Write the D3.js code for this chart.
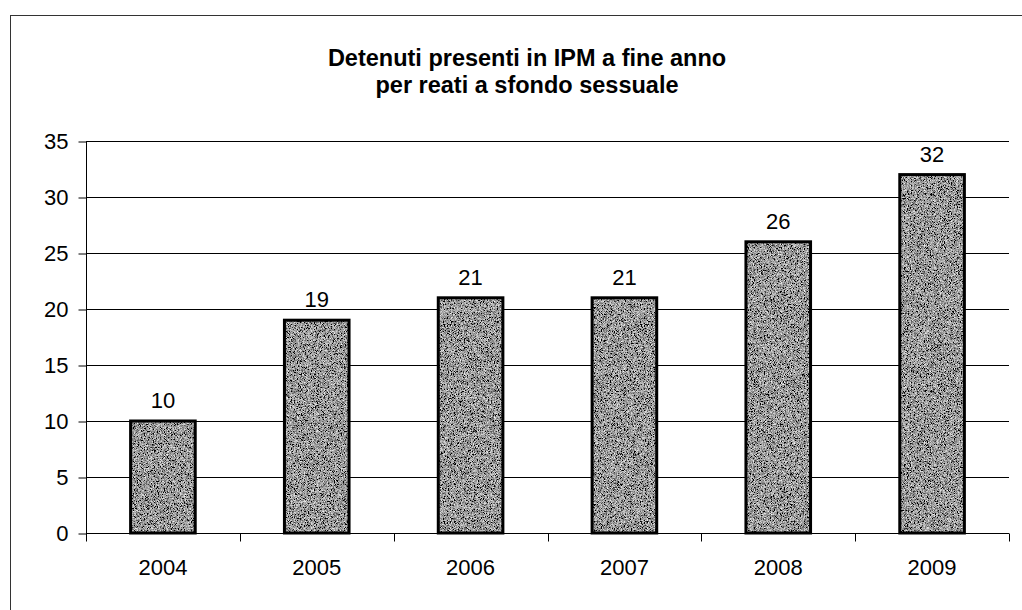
<!DOCTYPE html>
<html>
<head>
<meta charset="utf-8">
<script src="https://cdn.jsdelivr.net/npm/d3@7"></script>
<style>
  body { margin: 0; background: #fff; }
  text { font-family: "Liberation Sans", Arial, sans-serif; fill: #000; }
</style>
</head>
<body>
<div id="chart"></div>
<script>
// Data
const years = ["2004", "2005", "2006", "2007", "2008", "2009"];
const detenuti = [10, 19, 21, 21, 26, 32];
const yTicks = [0, 5, 10, 15, 20, 25, 30, 35];
const titleLines = ["Detenuti presenti in IPM a fine anno", "per reati a sfondo sessuale"];

const width = 1022;
const height = 610;
const margin = { top: 141, right: 13, bottom: 77, left: 86 };

const svg = d3.select("#chart")
  .append("svg")
  .attr("width", width)
  .attr("height", height);

// grainy gray fill, like the printed/scanned bars
const grain = svg.append("defs").append("filter")
  .attr("id", "grain")
  .attr("x", 0).attr("y", 0).attr("width", "100%").attr("height", "100%");
grain.append("feTurbulence")
  .attr("type", "fractalNoise")
  .attr("baseFrequency", 1.3)
  .attr("numOctaves", 2)
  .attr("seed", 4)
  .attr("result", "noise");
grain.append("feColorMatrix")
  .attr("in", "noise")
  .attr("type", "matrix")
  .attr("values", "1.8 0 0 0 -0.58  1.8 0 0 0 -0.58  1.8 0 0 0 -0.58  0 0 0 0 1")
  .attr("result", "gray");
grain.append("feComposite")
  .attr("in", "gray")
  .attr("in2", "SourceGraphic")
  .attr("operator", "in");

// outer frame (runs off the right and bottom edge like the scan)
svg.append("rect")
  .attr("x", 10.5)
  .attr("y", 15.5)
  .attr("width", 1030)
  .attr("height", 620)
  .attr("fill", "none")
  .attr("stroke", "#333")
  .attr("stroke-width", 1);

// title
svg.append("text")
  .attr("x", 527)
  .attr("y", 66)
  .attr("text-anchor", "middle")
  .style("font-weight", "bold")
  .style("font-size", "23.5px")
  .selectAll("tspan")
  .data(titleLines)
  .join("tspan")
  .attr("x", 527)
  .attr("dy", (d, i) => i === 0 ? 0 : 27)
  .text(d => d);

const x = d3.scaleBand()
  .domain(years)
  .range([margin.left, width - margin.right])
  .paddingInner(0.58)
  .paddingOuter(0.29);

const y = d3.scaleLinear()
  .domain([0, 35])
  .range([height - margin.bottom, margin.top]);

// gridlines
svg.append("g")
  .selectAll("line")
  .data(yTicks)
  .join("line")
  .attr("x1", margin.left)
  .attr("x2", width - margin.right)
  .attr("y1", d => Math.round(y(d)) + 0.5)
  .attr("y2", d => Math.round(y(d)) + 0.5)
  .attr("stroke", "#000")
  .attr("stroke-width", 1);

// y axis
const yAxis = svg.append("g")
  .attr("transform", `translate(${margin.left + 0.5},0.5)`)
  .call(d3.axisLeft(y).tickValues(yTicks).tickSize(8).tickPadding(10));
yAxis.select(".domain").attr("stroke", "#000");
yAxis.selectAll(".tick line").attr("stroke", "#000");
yAxis.selectAll(".tick text")
  .style("font-size", "22px")
  .attr("fill", "#000");
yAxis.select(".domain")
  .attr("d", `M0,${y(35)}V${y(0) + 8}`);

// bars: textured fill, then outline on top
const bars = svg.append("g");
bars.selectAll(".fill")
  .data(detenuti)
  .join("rect")
  .attr("class", "fill")
  .attr("x", (d, i) => x(years[i]))
  .attr("y", d => y(d))
  .attr("width", x.bandwidth())
  .attr("height", d => y(0) - y(d))
  .attr("fill", "#999")
  .attr("filter", "url(#grain)");
bars.selectAll(".edge")
  .data(detenuti)
  .join("rect")
  .attr("class", "edge")
  .attr("x", (d, i) => x(years[i]))
  .attr("y", d => y(d))
  .attr("width", x.bandwidth())
  .attr("height", d => y(0) - y(d))
  .attr("fill", "none")
  .attr("stroke", "#000")
  .attr("stroke-width", 3);

// x axis (ticks between categories)
const xAxisY = Math.round(y(0)) + 0.5;
const xEdges = d3.range(years.length + 1).map(i => margin.left + i * x.step());
const xAxis = svg.append("g");
xAxis.append("line")
  .attr("x1", margin.left)
  .attr("x2", width - margin.right)
  .attr("y1", xAxisY)
  .attr("y2", xAxisY)
  .attr("stroke", "#000");
xAxis.selectAll(".xtick")
  .data(xEdges.slice(1))
  .join("line")
  .attr("class", "xtick")
  .attr("x1", d => Math.round(d) + 0.5)
  .attr("x2", d => Math.round(d) + 0.5)
  .attr("y1", xAxisY)
  .attr("y2", xAxisY + 8)
  .attr("stroke", "#000");
xAxis.selectAll(".xlabel")
  .data(years)
  .join("text")
  .attr("class", "xlabel")
  .attr("x", d => x(d) + x.bandwidth() / 2)
  .attr("y", 575)
  .attr("text-anchor", "middle")
  .style("font-size", "22px")
  .text(d => d);

// value labels
svg.append("g")
  .selectAll("text")
  .data(detenuti)
  .join("text")
  .attr("x", (d, i) => x(years[i]) + x.bandwidth() / 2)
  .attr("y", d => y(d) - 13)
  .attr("text-anchor", "middle")
  .style("font-size", "22px")
  .text(d => d);
</script>
</body>
</html>
